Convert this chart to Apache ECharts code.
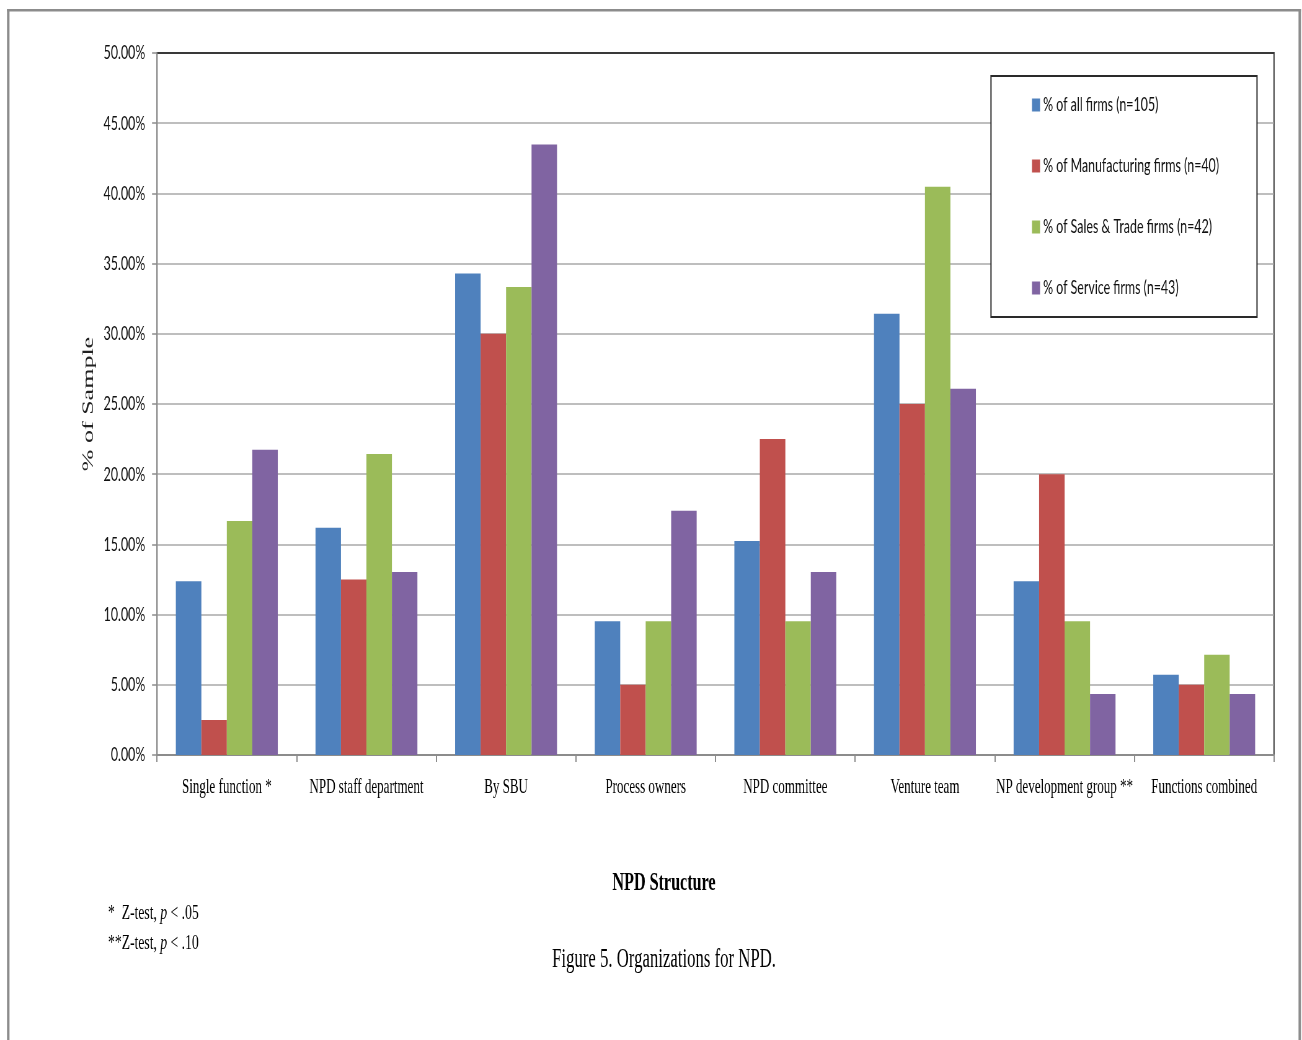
<!DOCTYPE html>
<html>
<head>
<meta charset="utf-8">
<script src="https://cdn.jsdelivr.net/npm/echarts@6/dist/echarts.min.js"></script>
<style>
  html, body { margin: 0; padding: 0; background: #fff; overflow: hidden; width: 1302px; height: 1040px; }
  #chart { height: 1040px; transform-origin: 0 0; }
</style>
</head>
<body>
<div id="chart"></div>
<script>
// ---- data ----
const categories = ['Single function *', 'NPD staff department', 'By SBU', 'Process owners', 'NPD committee', 'Venture team', 'NP development group **', 'Functions combined'];
const seriesNames = ['% of all firms (n=105)', '% of Manufacturing firms (n=40)', '% of Sales & Trade firms (n=42)', '% of Service firms (n=43)'];
const allFirms = [12.38, 16.19, 34.29, 9.52, 15.24, 31.43, 12.38, 5.71];
const manufacturing = [2.5, 12.5, 30.0, 5.0, 22.5, 25.0, 20.0, 5.0];
const salesTrade = [16.67, 21.43, 33.33, 9.52, 9.52, 40.48, 9.52, 7.14];
const service = [21.74, 13.04, 43.48, 17.39, 13.04, 26.09, 4.35, 4.35];
const yTicks = { min: 0, max: 50, step: 5 };
const colors = ['#4F81BD', '#C0504D', '#9BBB59', '#8064A2'];

// The reference figure is horizontally compressed; reproduce by drawing wider and squeezing.
const SX = 0.62;
const W = 1302 / SX;
const X = v => v / SX;

const el = document.getElementById('chart');
el.style.width = W + 'px';
el.style.transform = 'scaleX(' + SX + ')';

const chart = echarts.init(el, null, { renderer: 'canvas', width: W, height: 1040 });

const serif = '"Liberation Serif", "Times New Roman", serif';
const sans = 'Lato, "Liberation Sans", sans-serif';

const splitColors = [];
for (let v = yTicks.min; v <= yTicks.max; v += yTicks.step) splitColors.push(v === yTicks.max ? '#3a3a3a' : '#a9a9a9');

const dataSets = [allFirms, manufacturing, salesTrade, service];

const option = {
  animation: false,
  backgroundColor: '#ffffff',
  color: colors,
  grid: {
    left: X(157), right: X(1302 - 1274), top: 53, bottom: 1040 - 755,
    show: true, borderColor: '#3a3a3a', borderWidth: 2, backgroundColor: 'transparent'
  },
  legend: {
    orient: 'vertical',
    left: X(1032), top: 95,
    padding: 0,
    itemWidth: X(8), itemHeight: 13,
    itemGap: 41,
    icon: 'rect',
    data: seriesNames,
    textStyle: { fontFamily: sans, fontSize: 20, color: '#111', lineHeight: 20 },
    z: 6
  },
  xAxis: {
    type: 'category',
    data: categories,
    axisLine: { lineStyle: { color: '#8c8c8c', width: 2 } },
    axisTick: { show: true, length: 7, lineStyle: { color: '#8c8c8c', width: 2 } },
    axisLabel: { interval: 0, margin: 22, fontFamily: serif, fontSize: 21, color: '#000' },
    splitLine: { show: false }
  },
  yAxis: {
    type: 'value',
    min: yTicks.min, max: yTicks.max, interval: yTicks.step,
    name: '% of Sample',
    nameLocation: 'middle',
    nameRotate: 90,
    nameGap: 86,
    nameTextStyle: { fontFamily: serif, fontSize: 26, color: '#222' },
    axisLine: { show: true, lineStyle: { color: '#8c8c8c', width: 2 } },
    axisTick: { show: true, length: 8, lineStyle: { color: '#8c8c8c', width: 1.5 } },
    axisLabel: { margin: 19, fontFamily: sans, fontSize: 20, color: '#111', formatter: v => v.toFixed(2) + '%' },
    splitLine: { lineStyle: { color: splitColors, width: 1.5 } }
  },
  series: dataSets.map((d, i) => ({
    name: seriesNames[i],
    type: 'bar',
    data: d,
    barGap: '0%',
    barCategoryGap: '27%',
    itemStyle: { color: colors[i] }
  })),
  graphic: [
    { type: 'rect', silent: true, z: 100, shape: { x: X(7), y: 9, width: X(1301 - 7), height: 2.5 }, style: { fill: '#8c8c8c' } },
    { type: 'rect', silent: true, z: 100, shape: { x: X(7), y: 9, width: X(2.5), height: 1040 }, style: { fill: '#8c8c8c' } },
    { type: 'rect', silent: true, z: 100, shape: { x: X(1298.5), y: 9, width: X(2.5), height: 1040 }, style: { fill: '#8c8c8c' } },
    { type: 'rect', silent: true, z: 3, shape: { x: X(991), y: 76, width: X(1257 - 991), height: 317 - 76 }, style: { fill: '#ffffff', stroke: '#2a2a2a', lineWidth: 2 } },
    { type: 'text', silent: true, x: X(664), y: 883, style: { text: 'NPD Structure', fontFamily: serif, fontSize: 26, fontWeight: 'bold', fill: '#000', align: 'center', verticalAlign: 'middle' } },
    { type: 'text', silent: true, x: X(664), y: 960, style: { text: 'Figure 5. Organizations for NPD.', fontFamily: serif, fontSize: 27, fill: '#000', align: 'center', verticalAlign: 'middle' } },
    { type: 'text', silent: true, x: X(108), y: 913, style: { text: '*  Z-test, {i|p} < .05', fontFamily: serif, fontSize: 22, fill: '#000', align: 'left', verticalAlign: 'middle', rich: { i: { fontFamily: serif, fontSize: 22, fontStyle: 'italic', fill: '#000' } } } },
    { type: 'text', silent: true, x: X(108), y: 943, style: { text: '**Z-test, {i|p} < .10', fontFamily: serif, fontSize: 22, fill: '#000', align: 'left', verticalAlign: 'middle', rich: { i: { fontFamily: serif, fontSize: 22, fontStyle: 'italic', fill: '#000' } } } }
  ]
};

chart.setOption(option);
</script>
</body>
</html>
